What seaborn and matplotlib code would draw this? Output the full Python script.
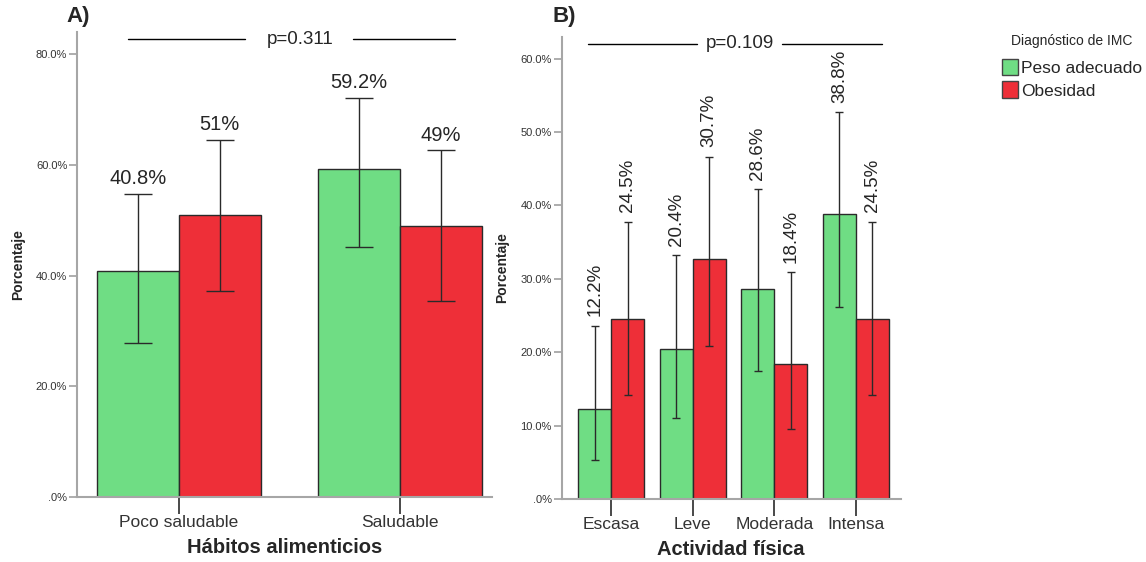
# Bar charts: IMC diagnosis by eating habits (A) and physical activity (B)

import pandas as pd
import matplotlib
matplotlib.use("Agg")
import matplotlib.pyplot as plt
import seaborn as sns
from matplotlib.patches import Patch
from matplotlib.ticker import FuncFormatter

grupos = ["Peso adecuado", "Obesidad"]
colores = ["#6fdd84", "#ee2f38"]

# Panel A
habitos = ["Poco saludable", "Saludable"]
habitos_peso = [40.8, 59.2]
habitos_obes = [51.0, 49.0]
habitos_peso_lo = [27.9, 45.2]
habitos_peso_hi = [54.8, 72.1]
habitos_obes_lo = [37.3, 35.4]
habitos_obes_hi = [64.6, 62.7]
habitos_txt_peso = ["40.8%", "59.2%"]
habitos_txt_obes = ["51%", "49%"]

# Panel B
actividad = ["Escasa", "Leve", "Moderada", "Intensa"]
act_peso = [12.2, 20.4, 28.6, 38.8]
act_obes = [24.5, 32.7, 18.4, 24.5]
act_peso_lo = [5.3, 11.0, 17.5, 26.2]
act_peso_hi = [23.6, 33.2, 42.2, 52.7]
act_obes_lo = [14.2, 20.8, 9.5, 14.2]
act_obes_hi = [37.8, 46.6, 30.9, 37.8]
act_txt_peso = ["12.2%", "20.4%", "28.6%", "38.8%"]
act_txt_obes = ["24.5%", "30.7%", "18.4%", "24.5%"]

sns.set_style("white")
plt.rcParams["font.family"] = ["Liberation Sans", "DejaVu Sans"]


def build_df(cats, peso, obes, peso_lo, peso_hi, obes_lo, obes_hi, txt_peso, txt_obes):
    rows = []
    for i, c in enumerate(cats):
        rows.append([c, grupos[0], peso[i], peso_lo[i], peso_hi[i], txt_peso[i]])
        rows.append([c, grupos[1], obes[i], obes_lo[i], obes_hi[i], txt_obes[i]])
    return pd.DataFrame(rows, columns=["cat", "grupo", "pct", "lo", "hi", "txt"])


def pct_fmt(v, _):
    s = f"{v:.1f}%"
    return s[1:] if s.startswith("0.") else s


def draw_panel(ax, df, width, capsize, rotation, txt_size, txt_off, yticks, ylim, xlim,
               xlabel, p_text, p_lines, p_x):
    sns.barplot(data=df, x="cat", y="pct", hue="grupo", hue_order=grupos,
                palette=colores, width=width, errorbar=None, saturation=1,
                edgecolor="#2a2a2a", linewidth=1, legend=False, ax=ax)

    bars = sorted(ax.patches, key=lambda p: p.get_x())
    for bar, row in zip(bars, df.itertuples()):
        x = bar.get_x() + bar.get_width() / 2
        ax.errorbar(x, row.pct, yerr=[[row.pct - row.lo], [row.hi - row.pct]],
                    fmt="none", ecolor="#2a2a2a", elinewidth=1, capsize=capsize,
                    capthick=1)
        ax.annotate(row.txt, (x, row.hi), xytext=(0, txt_off), textcoords="offset points",
                    ha="center", va="bottom", rotation=rotation, fontsize=txt_size)

    ax.set_ylim(*ylim)
    ax.set_xlim(*xlim)
    ax.set_yticks(yticks)
    ax.yaxis.set_major_formatter(FuncFormatter(pct_fmt))
    ax.tick_params(axis="y", direction="out", length=6, width=1.2, color="#a0a0a0",
                   labelsize=8, labelcolor="#333333", pad=1, left=True)
    ax.tick_params(axis="x", direction="out", length=12, width=1.2, color="#2a2a2a",
                   labelsize=12.5, labelcolor="#333333", pad=1, bottom=True)
    for s in ["top", "right"]:
        ax.spines[s].set_visible(False)
    for s in ["left", "bottom"]:
        ax.spines[s].set_color("#a6a6a6")
        ax.spines[s].set_linewidth(1.5)

    ax.set_ylabel("Porcentaje", fontsize=10, fontweight="bold", labelpad=8)
    ax.set_xlabel(xlabel, fontsize=14.5, fontweight="bold", labelpad=6)

    # p-value bracket
    for x0, x1 in p_lines:
        ax.plot([x0, x1], [0.985, 0.985], color="black", lw=1, transform=ax.transAxes,
                clip_on=False)
    ax.text(p_x, 0.985, p_text, transform=ax.transAxes, ha="center", va="center",
            fontsize=13.5)


fig = plt.figure(figsize=(11.46, 5.62), dpi=100)
ax_a = fig.add_axes([0.0672, 0.1157, 0.362, 0.827])
ax_b = fig.add_axes([0.490, 0.1121, 0.296, 0.8226])

df_a = build_df(habitos, habitos_peso, habitos_obes, habitos_peso_lo, habitos_peso_hi,
                habitos_obes_lo, habitos_obes_hi, habitos_txt_peso, habitos_txt_obes)
df_b = build_df(actividad, act_peso, act_obes, act_peso_lo, act_peso_hi,
                act_obes_lo, act_obes_hi, act_txt_peso, act_txt_obes)

draw_panel(ax_a, df_a, width=0.74, capsize=10, rotation=0, txt_size=14.5, txt_off=4,
           yticks=[0, 20, 40, 60, 80], ylim=(0, 84), xlim=(-0.46, 1.415),
           xlabel="Hábitos alimenticios", p_text="p=0.311",
           p_lines=[(0.123, 0.405), (0.666, 0.911)], p_x=0.538)
draw_panel(ax_b, df_b, width=0.81, capsize=3, rotation=90, txt_size=13.5, txt_off=7,
           yticks=[0, 10, 20, 30, 40, 50, 60], ylim=(0, 63), xlim=(-0.61, 3.55),
           xlabel="Actividad física", p_text="p=0.109",
           p_lines=[(0.0775, 0.399), (0.649, 0.944)], p_x=0.525)

fig.text(0.058, 0.97, "A)", fontsize=16, fontweight="bold", va="center")
fig.text(0.482, 0.97, "B)", fontsize=16, fontweight="bold", va="center")

handles = [Patch(facecolor=c, edgecolor="#444444", linewidth=1, label=g)
           for c, g in zip(colores, grupos)]
leg = fig.legend(handles=handles, title="Diagnóstico de IMC", loc="upper left",
                 bbox_to_anchor=(0.874, 0.94), frameon=False, fontsize=12.5,
                 handlelength=0.95, handleheight=1.1, handletextpad=0.15,
                 labelspacing=0.3, borderaxespad=0, borderpad=0)
leg.get_title().set_fontsize(10)
leg._legend_box.sep = 8

fig.savefig("out.png", dpi=100)
